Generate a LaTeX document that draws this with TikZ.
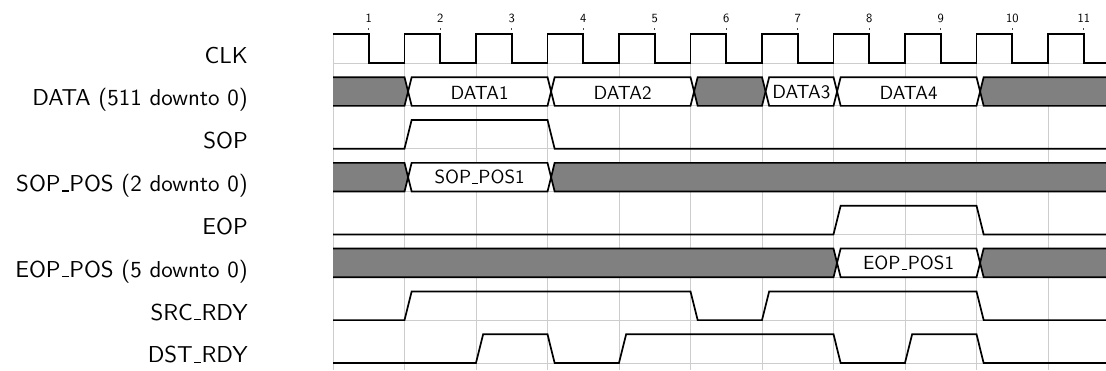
\documentclass[tikz,border=0pt]{standalone}
\usepackage{fontspec}
% Latin Modern Sans at its 10pt design size, scaled up
\newfontfamily\lmsten{lmsans10-regular.otf}
\definecolor{busgray}{RGB}{128,128,128}
\definecolor{gridgray}{RGB}{205,205,205}
% low bar in the style of the classic OT1 \_
\newcommand\lowbar{\leavevmode\kern.06em\rule{.3em}{.05em}\kern.02em}
\tikzset{
  grid line/.style={draw=gridgray, line width=0.9pt},
  wave/.style={draw=black, line width=1.7pt, line join=miter},
  rowlabel/.style={anchor=base east, inner sep=0pt, font=\fontsize{23}{26}\selectfont\lmsten},
  bustext/.style={inner sep=0pt, font=\fontsize{19}{22}\selectfont\lmsten},
  cyclenum/.style={inner sep=0pt, font=\fontsize{12.5}{14}\selectfont\lmsten},
  tickmark/.style={draw=black!70, line width=0.8pt},
}
\newcommand\slw{0.1}
\newcommand\tend{10.82}
% bus value between two crossings: start, end, top, bottom, fill
\newcommand\busseg[5]{%
  \filldraw[wave, fill=#5] ({#1+\slw/2},{(#3+#4)/2}) -- ({#1+\slw},#3) -- (#2,#3)
    -- ({#2+\slw/2},{(#3+#4)/2}) -- (#2,#4) -- ({#1+\slw},#4) -- cycle;}
% first bus value: end, top, bottom, fill
\newcommand\busfirst[4]{%
  \fill[#4] (0,#2) -- (#1,#2) -- ({#1+\slw/2},{(#2+#3)/2}) -- (#1,#3) -- (0,#3) -- cycle;
  \draw[wave] (0,#2) -- (#1,#2) -- ({#1+\slw/2},{(#2+#3)/2}) -- (#1,#3) -- (0,#3);}
% last bus value: start, top, bottom, fill
\newcommand\buslast[4]{%
  \fill[#4] (\tend,#2) -- ({#1+\slw},#2) -- ({#1+\slw/2},{(#2+#3)/2}) -- ({#1+\slw},#3) -- (\tend,#3) -- cycle;
  \draw[wave] (\tend,#2) -- ({#1+\slw},#2) -- ({#1+\slw/2},{(#2+#3)/2}) -- ({#1+\slw},#3) -- (\tend,#3);}
\begin{document}
\begin{tikzpicture}[x=1pt,y=-1pt]
\useasboundingbox (0,0) rectangle (1106,370);

% signal names
\node[rowlabel] (lclk)  at (248,63.0)   {CLK};
\node[rowlabel] (ldata) at (248,105.85) {DATA (511 downto 0)};
\node[rowlabel] (lsop)  at (248,148.7)  {SOP};
\node[rowlabel] (lsopp) at (248,191.55) {SOP\lowbar POS (2 downto 0)};
\node[rowlabel] (leop)  at (248,234.4)  {EOP};
\node[rowlabel] (leopp) at (248,277.25) {EOP\lowbar POS (5 downto 0)};
\node[rowlabel] (lsrc)  at (248,320.1)  {SRC\lowbar RDY};
\node[rowlabel] (ldst)  at (248,362.95) {DST\lowbar RDY};

\begin{scope}[shift={(333pt,0pt)}, x=71.5pt]
  % grid
  \foreach \k in {0,...,10} \draw[grid line] (\k,34.3) -- (\k,370);
  \foreach \b in {63.0,105.85,148.7,191.55,234.4,277.25,320.1,362.95}
    \draw[grid line] (0,\b) -- (\tend,\b);

  % cycle numbers
  \foreach \k in {1,...,11} {
    \node[cyclenum] (n\k) at ({\k-0.5},18.3) {\k};
    \draw[tickmark] ({\k-0.5},28.3) -- ({\k-0.5},30.2);
  }

  % CLK
  \draw[wave] (0,34.3) \foreach \k in {0,...,9} { -- ({\k+0.5},34.3) -- ({\k+0.5},63.0) -- ({\k+1},63.0) -- ({\k+1},34.3) }
    -- (10.5,34.3) -- (10.5,63.0) -- (\tend,63.0);

  % DATA
  \busfirst{1}{77.15}{105.85}{busgray}
  \busseg{1}{3}{77.15}{105.85}{white}
  \busseg{3}{5}{77.15}{105.85}{white}
  \busseg{5}{6}{77.15}{105.85}{busgray}
  \busseg{6}{7}{77.15}{105.85}{white}
  \busseg{7}{9}{77.15}{105.85}{white}
  \buslast{9}{77.15}{105.85}{busgray}
  \node[bustext] (d1) at (2.05,92.5) {DATA1};
  \node[bustext] (d2) at (4.05,92.5) {DATA2};
  \node[bustext] (d3) at (6.55,92.5) {DATA3};
  \node[bustext] (d4) at (8.05,92.5) {DATA4};

  % SOP
  \draw[wave] (0,148.7) -- (1,148.7) -- (1.1,120.0) -- (3,120.0) -- (3.1,148.7) -- (\tend,148.7);

  % SOP_POS
  \busfirst{1}{162.85}{191.55}{busgray}
  \busseg{1}{3}{162.85}{191.55}{white}
  \buslast{3}{162.85}{191.55}{busgray}
  \node[bustext] (sp1) at (2.05,177.2) {SOP\lowbar POS1};

  % EOP
  \draw[wave] (0,234.4) -- (7,234.4) -- (7.1,205.7) -- (9,205.7) -- (9.1,234.4) -- (\tend,234.4);

  % EOP_POS
  \busfirst{7}{248.55}{277.25}{busgray}
  \busseg{7}{9}{248.55}{277.25}{white}
  \buslast{9}{248.55}{277.25}{busgray}
  \node[bustext] (ep1) at (8.05,262.9) {EOP\lowbar POS1};

  % SRC_RDY
  \draw[wave] (0,320.1) -- (1,320.1) -- (1.1,291.4) -- (5,291.4) -- (5.1,320.1) -- (6,320.1)
    -- (6.1,291.4) -- (9,291.4) -- (9.1,320.1) -- (\tend,320.1);

  % DST_RDY
  \draw[wave] (0,362.95) -- (2,362.95) -- (2.1,334.25) -- (3,334.25) -- (3.1,362.95) -- (4,362.95)
    -- (4.1,334.25) -- (7,334.25) -- (7.1,362.95) -- (8,362.95) -- (8.1,334.25) -- (9,334.25)
    -- (9.1,362.95) -- (\tend,362.95);
\end{scope}
\end{tikzpicture}
\end{document}
